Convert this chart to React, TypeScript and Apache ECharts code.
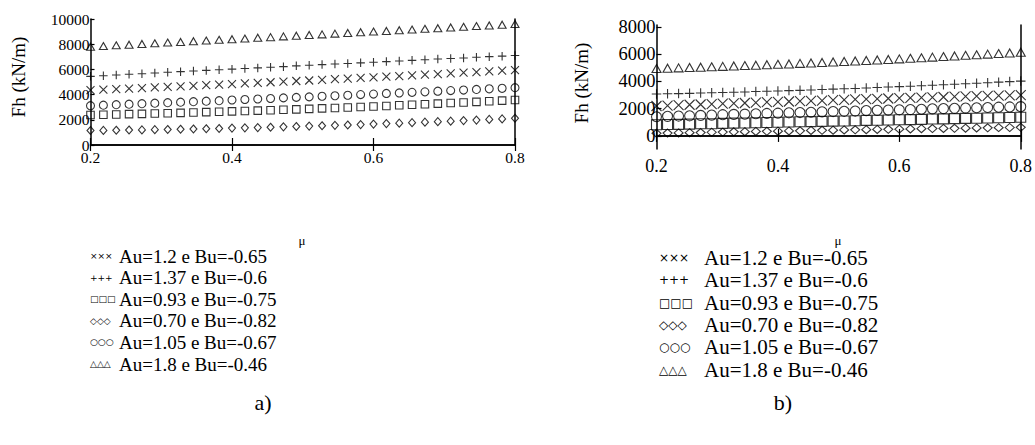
import React, { useEffect, useRef } from "react";
import * as echarts from "echarts";

// μ values (34 points from 0.2 to 0.8)
const MU = [0.2, 0.2182, 0.2364, 0.2545, 0.2727, 0.2909, 0.3091, 0.3273, 0.3455, 0.3636, 0.3818, 0.4, 0.4182, 0.4364, 0.4545, 0.4727, 0.4909, 0.5091, 0.5273, 0.5455, 0.5636, 0.5818, 0.6, 0.6182, 0.6364, 0.6545, 0.6727, 0.6909, 0.7091, 0.7273, 0.7455, 0.7636, 0.7818, 0.8];

// Chart a)
const A_CROSS = [4350, 4390, 4440, 4480, 4520, 4570, 4610, 4660, 4700, 4750, 4790, 4840, 4890, 4930, 4980, 5030, 5080, 5120, 5170, 5220, 5270, 5320, 5370, 5420, 5470, 5530, 5580, 5630, 5680, 5740, 5790, 5840, 5900, 5950];
const A_PLUS = [5450, 5500, 5560, 5610, 5660, 5710, 5770, 5820, 5870, 5920, 5970, 6020, 6070, 6120, 6170, 6220, 6280, 6330, 6380, 6430, 6470, 6520, 6570, 6620, 6670, 6720, 6770, 6820, 6860, 6910, 6960, 7010, 7050, 7100];
const A_SQUARE = [2380, 2400, 2420, 2450, 2470, 2500, 2520, 2550, 2580, 2610, 2640, 2670, 2700, 2730, 2760, 2800, 2830, 2870, 2910, 2940, 2980, 3020, 3060, 3100, 3150, 3190, 3230, 3280, 3330, 3370, 3420, 3470, 3520, 3570];
const A_DIAMOND = [1150, 1160, 1170, 1190, 1200, 1220, 1230, 1250, 1270, 1290, 1310, 1340, 1360, 1380, 1410, 1440, 1470, 1500, 1530, 1560, 1590, 1620, 1660, 1700, 1730, 1770, 1810, 1850, 1890, 1940, 1980, 2030, 2070, 2120];
const A_CIRCLE = [3120, 3160, 3200, 3240, 3280, 3320, 3360, 3400, 3440, 3480, 3520, 3570, 3610, 3650, 3690, 3740, 3780, 3820, 3870, 3910, 3950, 4000, 4040, 4090, 4130, 4180, 4220, 4270, 4320, 4360, 4410, 4460, 4500, 4550];
const A_TRIANGLE = [7800, 7850, 7910, 7960, 8020, 8070, 8130, 8180, 8240, 8290, 8350, 8400, 8450, 8510, 8560, 8620, 8670, 8730, 8780, 8840, 8890, 8950, 9000, 9050, 9110, 9160, 9220, 9270, 9330, 9380, 9440, 9490, 9550, 9600];

// Chart b)
const B_CROSS = [2200, 2230, 2260, 2290, 2310, 2340, 2370, 2400, 2420, 2450, 2480, 2500, 2530, 2550, 2580, 2600, 2630, 2650, 2680, 2700, 2720, 2750, 2770, 2790, 2810, 2840, 2860, 2880, 2900, 2920, 2940, 2960, 2980, 3000];
const B_PLUS = [3080, 3100, 3110, 3130, 3150, 3170, 3190, 3210, 3230, 3260, 3280, 3300, 3330, 3350, 3380, 3410, 3440, 3470, 3490, 3520, 3560, 3590, 3620, 3650, 3690, 3720, 3760, 3800, 3830, 3870, 3910, 3950, 3990, 4030];
const B_SQUARE = [820, 840, 850, 870, 890, 900, 920, 940, 950, 970, 990, 1000, 1020, 1040, 1050, 1070, 1090, 1100, 1120, 1140, 1150, 1170, 1190, 1200, 1220, 1240, 1250, 1270, 1290, 1300, 1320, 1340, 1350, 1370];
const B_DIAMOND = [190, 210, 220, 240, 250, 270, 280, 300, 310, 330, 340, 350, 370, 380, 400, 410, 420, 440, 450, 460, 480, 490, 500, 510, 530, 540, 550, 560, 570, 590, 600, 610, 620, 630];
const B_CIRCLE = [1410, 1440, 1460, 1480, 1510, 1530, 1560, 1580, 1600, 1630, 1650, 1670, 1700, 1720, 1740, 1770, 1790, 1810, 1830, 1860, 1880, 1900, 1920, 1940, 1960, 1990, 2010, 2030, 2050, 2070, 2090, 2110, 2130, 2150];
const B_TRIANGLE = [4950, 4970, 5000, 5030, 5050, 5080, 5110, 5140, 5170, 5200, 5230, 5260, 5290, 5330, 5360, 5400, 5430, 5470, 5510, 5540, 5580, 5620, 5660, 5700, 5740, 5790, 5830, 5870, 5920, 5960, 6010, 6050, 6100, 6150];

const LEGEND_LABELS = ["Au=1.2 e Bu=-0.65", "Au=1.37 e Bu=-0.6", "Au=0.93 e Bu=-0.75", "Au=0.70 e Bu=-0.82", "Au=1.05 e Bu=-0.67", "Au=1.8 e Bu=-0.46"];
const LEGEND_GLYPHS = ["×××", "+++", "□□□", "◇◇◇", "○○○", "△△△"];
const Y_TICKS_B = [0, 2000, 4000, 6000, 8000];
const Y_NAME = "Fh (kN/m)";
const X_NAME = "μ";
const PANEL_LABELS = ["a)", "b)"];

const SERIF = "Liberation Serif";
const SANS = "DejaVu Sans";

const SYM_CROSS = "path://M0,0L10,10M10,0L0,10";
const SYM_PLUS = "path://M5,0L5,10M0,5L10,5";

export default function App() {
  const ref = useRef<HTMLDivElement>(null);

  useEffect(() => {
    if (!ref.current) return;
    const chart = echarts.init(ref.current, undefined, { renderer: "svg" });

    const axisLine = { show: true, lineStyle: { color: "#000", width: 1.5 } };

    const xAxes = (gi: number, fs: number, margin: number) => [
      {
        type: "value", gridIndex: gi, position: "bottom", min: 0.2, max: 0.8, interval: 0.2,
        axisLine, splitLine: { show: false },
        axisTick: { show: true, inside: true, length: 7, lineStyle: { color: "#000", width: 1.2 } },
        axisLabel: { show: true, color: "#000", fontFamily: SERIF, fontSize: fs, margin,
          formatter: (v: number) => v.toFixed(1) },
      },
      {
        type: "value", gridIndex: gi, position: "top", min: 0.2, max: 0.8, interval: 0.2,
        axisLine, splitLine: { show: false },
        axisTick: { show: true, inside: true, length: 6, lineStyle: { color: "#000", width: 1.2 } },
        axisLabel: { show: false },
      },
    ];

    const sym = (big: boolean) => ({
      cross: { symbol: SYM_CROSS, symbolSize: big ? 10 : 8 },
      plus: { symbol: SYM_PLUS, symbolSize: big ? 9.5 : 8.5 },
      square: { symbol: "rect", symbolSize: big ? 10 : 7.5 },
      diamond: { symbol: "diamond", symbolSize: big ? [9, 8] : [7, 8] },
      circle: { symbol: "circle", symbolSize: big ? 10 : 8 },
      triangle: { symbol: "triangle", symbolSize: big ? [9, 8] : [8, 7] },
    });

    const mk = (name: string, vals: number[], s: any, gi: number, lw: number) => ({
      type: "scatter", name, xAxisIndex: gi * 2, yAxisIndex: gi * 2, clip: false,
      data: MU.map((x, i) => [x, vals[i]]),
      symbol: s.symbol, symbolSize: s.symbolSize,
      itemStyle: { color: "transparent", borderColor: "#000", borderWidth: lw },
      emphasis: { disabled: true },
    });

    const sa = sym(false);
    const sb = sym(true);
    const series: any[] = [
      mk("a " + LEGEND_LABELS[0], A_CROSS, sa.cross, 0, 1.1),
      mk("a " + LEGEND_LABELS[1], A_PLUS, sa.plus, 0, 1.1),
      mk("a " + LEGEND_LABELS[2], A_SQUARE, sa.square, 0, 1.1),
      mk("a " + LEGEND_LABELS[3], A_DIAMOND, sa.diamond, 0, 1.1),
      mk("a " + LEGEND_LABELS[4], A_CIRCLE, sa.circle, 0, 1.1),
      mk("a " + LEGEND_LABELS[5], A_TRIANGLE, sa.triangle, 0, 1.1),
      mk("b " + LEGEND_LABELS[0], B_CROSS, sb.cross, 1, 1.1),
      mk("b " + LEGEND_LABELS[1], B_PLUS, sb.plus, 1, 1.1),
      mk("b " + LEGEND_LABELS[2], B_SQUARE, sb.square, 1, 1.1),
      mk("b " + LEGEND_LABELS[3], B_DIAMOND, sb.diamond, 1, 1.1),
      mk("b " + LEGEND_LABELS[4], B_CIRCLE, sb.circle, 1, 1.1),
      mk("b " + LEGEND_LABELS[5], B_TRIANGLE, sb.triangle, 1, 1.1),
    ];

    const txt = (x: number, y: number, text: string, font: string, size: number, align = "left", rotation = 0) => ({
      type: "text", x, y, rotation, silent: true,
      style: {
        text, fill: "#000", fontFamily: font, fontSize: size,
        align, verticalAlign: "middle", textAlign: align, textVerticalAlign: "middle",
      },
    });

    const legendRows = (gx: number, tx: number, y0: number, dy: number, gs: number, ts: number) =>
      LEGEND_LABELS.flatMap((lab, i) => [
        txt(gx, y0 + i * dy, LEGEND_GLYPHS[i], SANS, gs),
        txt(tx, y0 + i * dy, lab, SERIF, ts),
      ]);

    const graphic: any[] = [
      txt(18, 77, Y_NAME, SERIF, 19, "center", Math.PI / 2),
      txt(581, 83, Y_NAME, SERIF, 19, "center", Math.PI / 2),
      txt(302, 240, X_NAME, SERIF, 13, "center"),
      txt(838, 240, X_NAME, SERIF, 13, "center"),
      ...legendRows(90, 119, 256, 21.6, 9, 19),
      ...legendRows(659, 704, 258, 22.3, 12, 21),
      txt(263, 402, PANEL_LABELS[0], SERIF, 22, "center"),
      txt(783, 402, PANEL_LABELS[1], SERIF, 22, "center"),
    ];

    chart.setOption({
      animation: false,
      grid: [
        { left: 90.5, top: 19, width: 424.5, height: 126, containLabel: false },
        { left: 656.5, top: 25, width: 365.5, height: 124, containLabel: false },
      ],
      xAxis: [...xAxes(0, 15.5, 4), ...xAxes(1, 18, 8)],
      yAxis: [
        {
          type: "value", gridIndex: 0, position: "left", min: 0, max: 10000, interval: 2000,
          axisLine, splitLine: { show: false },
          axisTick: { show: true, inside: true, length: 4, lineStyle: { color: "#000", width: 1.2 } },
          axisLabel: { color: "#000", fontFamily: SERIF, fontSize: 15.5, margin: 1, formatter: (v: number) => String(v) },
        },
        {
          type: "value", gridIndex: 0, position: "right", min: 0, max: 10000, interval: 2000,
          axisLine, splitLine: { show: false }, axisTick: { show: false }, axisLabel: { show: false },
        },
        {
          type: "value", gridIndex: 1, position: "left", min: -960, max: 8150,
          axisLine, splitLine: { show: false },
          axisTick: { show: true, inside: true, length: 5, customValues: Y_TICKS_B, lineStyle: { color: "#000", width: 1.2 } },
          axisLabel: { color: "#000", fontFamily: SERIF, fontSize: 18.5, margin: 1, customValues: Y_TICKS_B, formatter: (v: number) => String(v) },
        },
        {
          type: "value", gridIndex: 1, position: "right", min: -960, max: 8150,
          axisLine, splitLine: { show: false }, axisTick: { show: false }, axisLabel: { show: false },
        },
      ],
      series,
      graphic,
    });

    return () => chart.dispose();
  }, []);

  return <div ref={ref} style={{ position: "absolute", left: 0, top: 0, width: 1035, height: 445 }} />;
}
